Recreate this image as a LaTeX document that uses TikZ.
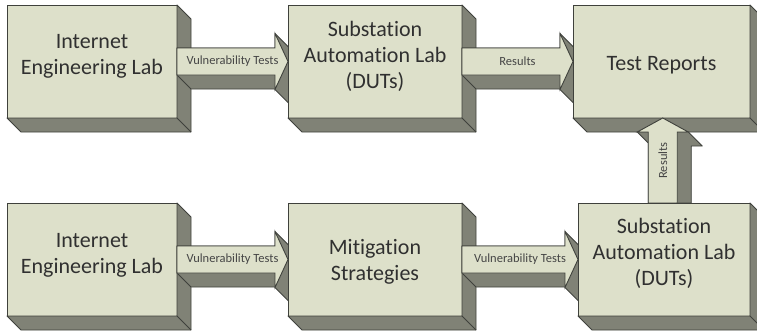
\documentclass[tikz,border=0pt]{standalone}
\usepackage{fontspec}
\setmainfont{Carlito}[Ligatures=NoCommon, RawFeature=-calt]
\usetikzlibrary{calc}
\pgfdeclarelayer{la}
\pgfdeclarelayer{lb}
\pgfdeclarelayer{lc}
\pgfdeclarelayer{ld}
\pgfdeclarelayer{le}
\pgfdeclarelayer{lf}
\pgfsetlayers{la,lb,lc,ld,le,lf,main}
\definecolor{face}{HTML}{DDE0CA}
\definecolor{side}{HTML}{808276}
\definecolor{edge}{HTML}{3F413C}
\definecolor{ink}{HTML}{303030}
\newcommand\nolig{\kern0pt\relax}
\tikzset{
  blk/.style={draw=edge, fill=face, line width=0.9pt, minimum width=#1,
    minimum height=113pt, inner sep=0pt, outer sep=0pt},
  blktext/.style={font=\fontsize{22}{26}\selectfont, text=ink, align=center,
    inner sep=0pt},
  sideface/.style={draw=edge, fill=side, line width=0.9pt, line join=round},
  frontface/.style={draw=edge, fill=face, line width=0.9pt, line join=miter},
  lbl/.style={font=\fontsize{12.5}{14}\selectfont, text=ink!90, inner sep=0pt},
}
% 3D box: name, centre, width, text, text shift
\newcommand\myblock[5]{%
  \node[blk=#3] (#1) at (#2) {};
  \draw[sideface] (#1.north east) -- ++(14pt,-14pt)
    -- ($(#1.south east)+(14pt,-14pt)$) -- ($(#1.south west)+(14pt,-14pt)$)
    -- (#1.south west) -- (#1.south east) -- cycle;
  \draw[edge, line width=0.9pt] (#1.south east) -- ++(14pt,-14pt);
  \node[blktext] (#1t) at ($(#1.center)+(0,#5)$) {#4};
}
% horizontal block arrow: from, to, label name, label
\newcommand\myharrow[4]{%
  \draw[sideface] let \p1=(#1.east), \p2=(#2.west) in
    (\x1,\y1+13.5pt) -- (\x2-13pt,\y1+13.5pt) -- (\x2-13pt,\y1+28pt)
    -- (\x2+1pt,\y1+14pt) -- (\x2+14pt,\y1-14pt) -- (\x2+1pt,\y1-42pt)
    -- (\x2-13pt,\y1-28pt) -- (\x2-13pt,\y1-27.5pt) -- (\x1+14pt,\y1-27.5pt)
    -- (\x1,\y1-13.5pt) -- cycle;
  \draw[frontface] let \p1=(#1.east), \p2=(#2.west) in
    (\x1,\y1+13.5pt) -- (\x2-13pt,\y1+13.5pt) -- (\x2-13pt,\y1+28pt)
    -- (\x2,\y1) -- (\x2-13pt,\y1-28pt) -- (\x2-13pt,\y1-13.5pt)
    -- (\x1,\y1-13.5pt) -- cycle;
  \path let \p1=(#1.east), \p2=(#2.west) in
    node[lbl] (#3) at ({(\x1+\x2)/2},\y1) {#4};
}
\begin{document}
\begin{tikzpicture}[x=1pt,y=1pt]
\useasboundingbox (0,0) rectangle (757,333);
\begin{pgfonlayer}{la}
  \myblock{b1}{92,271.5}{170pt}{Internet\\Engineering Lab}{5pt}
  \myblock{b4}{92,73.5}{170pt}{Internet\\Engineering Lab}{4.6pt}
\end{pgfonlayer}
\begin{pgfonlayer}{lc}
  \myblock{b2}{375,271.5}{174pt}{Substation\\Automat\nolig ion Lab\\(DUTs)}{5pt}
  \myblock{b5}{375,73.5}{174pt}{Mit\nolig igat\nolig ion\\Strategies}{-1.9pt}
\end{pgfonlayer}
\begin{pgfonlayer}{le}
  \myblock{b3}{661.5,271.5}{177pt}{Test Reports}{-3.7pt}
\end{pgfonlayer}
\myblock{b6}{664,73.5}{172pt}{Substation\\Automat\nolig ion Lab\\(DUTs)}{6.4pt}
\begin{pgfonlayer}{lb}
  \myharrow{b1}{b2}{l1}{Vulnerability Tests}
  \myharrow{b4}{b5}{l3}{Vulnerability Tests}
\end{pgfonlayer}
\begin{pgfonlayer}{ld}
  \myharrow{b2}{b3}{l2}{Results}
  \myharrow{b5}{b6}{l4}{Vulnerability Tests}
\end{pgfonlayer}
\begin{pgfonlayer}{lf}
  \draw[sideface] let \p1=(b6.north), \p2=(b3.south), \n1={(\x1+\x2)/2} in
    (\n1-25.5pt,\y2-14pt) -- (\n1+25.5pt,\y2-14pt) -- (\n1+39.5pt,\y2-28pt)
    -- (\n1+28.5pt,\y2-28pt) -- (\n1+28.5pt,\y1) -- (\n1-14.5pt,\y1)
    -- (\n1-14.5pt,\y2-25pt) -- cycle;
  \draw[frontface] let \p1=(b6.north), \p2=(b3.south), \n1={(\x1+\x2)/2} in
    (\n1-14.5pt,\y1) -- (\n1-14.5pt,\y2-14pt) -- (\n1-25.5pt,\y2-14pt)
    -- (\n1,\y2) -- (\n1+25.5pt,\y2-14pt) -- (\n1+14.5pt,\y2-14pt)
    -- (\n1+14.5pt,\y1) -- cycle;
  \path let \p1=(b6.north), \p2=(b3.south), \n1={(\x1+\x2)/2} in
    node[lbl, rotate=90] (l5) at (\n1,{(\y1+\y2)/2}) {Results};
\end{pgfonlayer}
\end{tikzpicture}
\end{document}
